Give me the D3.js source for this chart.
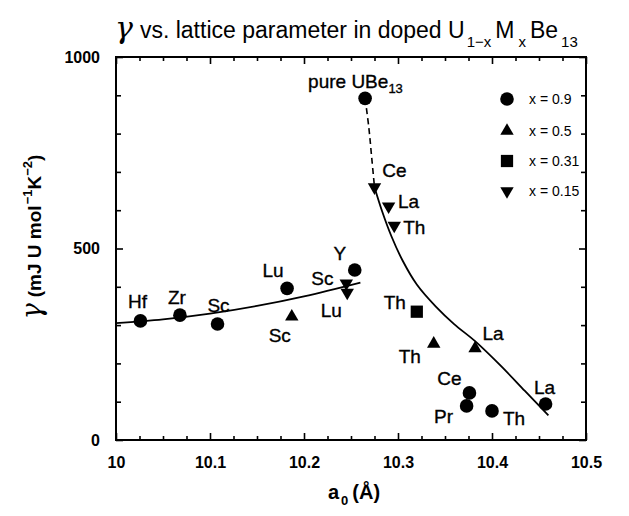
<!DOCTYPE html>
<html><head><meta charset="utf-8">
<script src="https://cdn.jsdelivr.net/npm/d3@7"></script>
<style>body{margin:0;background:#fff}svg{display:block}</style>
</head><body><svg id="c" width="629" height="516"></svg>
<script>
// ---- data ----
const xMajorTicks = [10, 10.1, 10.2, 10.3, 10.4, 10.5];
const yMajorTicks = [0, 500, 1000];
const legendNames = ["x = 0.9", "x = 0.5", "x = 0.31", "x = 0.15"];

const circleLabels = ["Hf", "Zr", "Sc", "Lu", "Y", "pure UBe13", "Ce", "Pr", "Th", "La"];
const circleA = [10.026, 10.068, 10.108, 10.182, 10.254, 10.265, 10.376, 10.373, 10.40, 10.457];
const circleG = [311, 326, 303, 396, 444, 892, 123, 89, 76, 94];

const triLabels = ["Sc", "Th", "La"];
const triA = [10.187, 10.338, 10.382];
const triG = [322, 251, 239];

const squareLabels = ["Th"];
const squareA = [10.32];
const squareG = [335];

const downLabels = ["Sc", "Lu", "Ce", "La", "Th"];
const downA = [10.245, 10.246, 10.275, 10.29, 10.296];
const downG = [409, 385, 660, 610, 560];

const lowCurveA = [10, 10.05, 10.1, 10.15, 10.2, 10.26];
const lowCurveG = [305, 315, 330, 350, 375, 411];
const dashA = [10.265, 10.269, 10.272, 10.275];
const dashG = [892, 815, 738, 660];
const highCurveA = [10.275, 10.283, 10.293, 10.305, 10.32, 10.34, 10.36, 10.382, 10.41, 10.435, 10.46];
const highCurveG = [660, 598, 532, 468, 406, 349, 302, 258, 192, 128, 64];

// label offsets (layout only): [dx, dy] of label centre from marker
const circleOff = [[-3,-20],[-3,-18],[1,-19],[-14,-18],[-15,-17],[-57,-17],[-20,-15],[-23,10],[22,7],[-1,-17]];
const triOff = [[-12,18],[-24,12],[18,-15]];
const squareOff = [[-22,-10]];
const downOff = [[-24,-5],[-16,17],[20,-17],[20,-5],[20,1]];

// ---- drawing ----
const svg = d3.select("#c");
const M = {l: 116, r: 586, t: 57, b: 440};
const x = d3.scaleLinear().domain([10, 10.5]).range([M.l, M.r]);
const y = d3.scaleLinear().domain([0, 1000]).range([M.b, M.t]);
const FONT = "'Liberation Sans', Arial, sans-serif";

// ticks
const xMinor = d3.range(0, 21).map(i => 10 + i * 0.025).filter(v => !xMajorTicks.some(m => Math.abs(m - v) < 1e-6));
const yMinor = d3.range(0, 11).map(i => i * 100).filter(v => !yMajorTicks.includes(v));
function axisG(axis, tr){ const g = svg.append("g").attr("transform", tr).call(axis); g.select(".domain").remove(); g.selectAll("line").attr("stroke","#000").attr("stroke-width",1.6); return g; }
axisG(d3.axisBottom(x).tickValues(xMinor).tickSize(-4).tickFormat(""), `translate(0,${M.b})`);
axisG(d3.axisTop(x).tickValues(xMinor).tickSize(-4).tickFormat(""), `translate(0,${M.t})`);
axisG(d3.axisTop(x).tickValues(xMajorTicks).tickSize(-7).tickFormat(""), `translate(0,${M.t})`);
const xb = axisG(d3.axisBottom(x).tickValues(xMajorTicks).tickSize(-7).tickPadding(17).tickFormat(d3.format("")), `translate(0,${M.b})`);
xb.selectAll("text").attr("font-family", FONT).attr("font-weight","bold").attr("font-size",16).attr("fill","#000");
axisG(d3.axisLeft(y).tickValues(yMinor).tickSize(-5).tickFormat(""), `translate(${M.l},0)`);
axisG(d3.axisRight(y).tickValues(yMinor).tickSize(-5).tickFormat(""), `translate(${M.r},0)`);
axisG(d3.axisRight(y).tickValues(yMajorTicks).tickSize(-7).tickFormat(""), `translate(${M.r},0)`);
const yl = axisG(d3.axisLeft(y).tickValues(yMajorTicks).tickSize(-7).tickPadding(16).tickFormat(d3.format("")), `translate(${M.l},0)`);
yl.selectAll("text").attr("font-family", FONT).attr("font-weight","bold").attr("font-size",16).attr("fill","#000");

svg.append("rect").attr("x", M.l).attr("y", M.t).attr("width", M.r - M.l).attr("height", M.b - M.t)
  .attr("fill","none").attr("stroke","#000").attr("stroke-width",2);

// curves
const line = d3.line().x(d => x(d[0])).y(d => y(d[1])).curve(d3.curveCatmullRom);
svg.append("path").attr("d", line(d3.zip(lowCurveA, lowCurveG))).attr("fill","none").attr("stroke","#000").attr("stroke-width",1.8);
svg.append("path").attr("d", line(d3.zip(dashA, dashG))).attr("fill","none").attr("stroke","#000").attr("stroke-width",1.6).attr("stroke-dasharray","6,4");
svg.append("path").attr("d", line(d3.zip(highCurveA, highCurveG))).attr("fill","none").attr("stroke","#000").attr("stroke-width",1.8);

// markers
const sym = {
  circle: d3.symbol().type(d3.symbolCircle).size(145)(),
  tri: d3.symbol().type(d3.symbolTriangle).size(78)(),
  square: d3.symbol().type(d3.symbolSquare).size(150)(),
  down: d3.symbol().type(d3.symbolTriangle).size(78)()
};
const rot = {circle:0, tri:0, square:0, down:180};
function drawSeries(kind, A, G, labels, offs){
  A.forEach((a, i) => {
    svg.append("path").attr("d", sym[kind]).attr("fill","#000")
      .attr("transform", `translate(${x(a)},${y(G[i])}) rotate(${rot[kind]})`);
    const isPure = labels[i].startsWith("pure");
    const t = svg.append("text").attr("font-family", FONT).attr("font-size",19).attr("fill","#000")
      .attr("stroke","#000").attr("stroke-width",0.35)
      .attr("x", x(a) + offs[i][0]).attr("y", y(G[i]) + offs[i][1] + 7)
      .attr("text-anchor", isPure ? "start" : "middle");
    if (isPure) {
      t.append("tspan").text("pure UBe");
      t.append("tspan").attr("font-size",13).attr("dy",5).text("13");
    } else t.text(labels[i]);
  });
}
drawSeries("circle", circleA, circleG, circleLabels, circleOff);
drawSeries("tri", triA, triG, triLabels, triOff);
drawSeries("square", squareA, squareG, squareLabels, squareOff);
drawSeries("down", downA, downG, downLabels, downOff);

// legend
const kinds = ["circle","tri","square","down"];
const legY = [99, 131, 161, 191];
legendNames.forEach((n, i) => {
  svg.append("path").attr("d", sym[kinds[i]]).attr("fill","#000")
    .attr("transform", `translate(507,${legY[i]}) rotate(${rot[kinds[i]]})`);
  svg.append("text").attr("x", 529).attr("y", legY[i] + 5).attr("font-family", FONT).attr("font-size",14).text(n);
});

// title
const title = svg.append("text").attr("x", 115).attr("y", 38).attr("font-family", FONT).attr("font-size",23);
title.append("tspan").attr("font-family","'DejaVu Serif', serif").attr("font-style","italic").attr("font-size",30).text("γ");
title.append("tspan").attr("dx",7).text("vs. lattice parameter in doped U");
title.append("tspan").attr("font-size",15).attr("dy",9).attr("dx",2).text("1−x");
title.append("tspan").attr("dy",-9).attr("dx",4).text("M");
title.append("tspan").attr("font-size",15).attr("dy",9).attr("dx",4).text("x");
title.append("tspan").attr("dy",-9).attr("dx",4).text("Be");
title.append("tspan").attr("font-size",15).attr("dy",9).attr("dx",3).text("13");

// y axis label
const ylab = svg.append("text").attr("transform","translate(41,237) rotate(-90)").attr("text-anchor","middle")
  .attr("font-family", FONT).attr("font-size",19).attr("font-weight","bold");
ylab.append("tspan").attr("font-family","'DejaVu Serif', serif").attr("font-style","italic").attr("font-weight","normal").attr("font-size",27).text("γ");
ylab.append("tspan").attr("dx",6).text("(mJ U mol");
ylab.append("tspan").attr("font-size",13).attr("dy",-9).attr("dx",1).text("−1");
ylab.append("tspan").attr("dy",9).text("K");
ylab.append("tspan").attr("font-size",13).attr("dy",-9).text("−2");
ylab.append("tspan").attr("dy",9).text(")");

// x axis label
const xlab = svg.append("text").attr("x", 354).attr("y", 499).attr("text-anchor","middle")
  .attr("font-family", FONT).attr("font-size",20).attr("font-weight","bold");
xlab.append("tspan").text("a");
xlab.append("tspan").attr("font-size",13).attr("dy",6).attr("dx",2).text("0");
xlab.append("tspan").attr("dy",-6).attr("dx",4).text("(Å)");
</script></body></html>
